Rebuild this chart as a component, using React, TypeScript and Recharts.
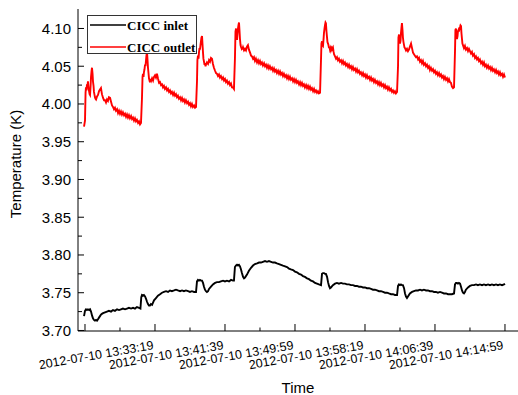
import { Label, Line, LineChart, XAxis, YAxis } from "recharts";

// seconds after 2012-07-10 13:24:59
const xTickSec = [0, 250, 500, 750, 1000, 1250, 1500, 1750, 2000, 2250, 2500, 2750, 3000];
const xTickLabel = [
  "",
  "",
  "2012-07-10 13:33:19",
  "",
  "2012-07-10 13:41:39",
  "",
  "2012-07-10 13:49:59",
  "",
  "2012-07-10 13:58:19",
  "",
  "2012-07-10 14:06:39",
  "",
  "2012-07-10 14:14:59",
];
const yTicks = [
  3.7, 3.725, 3.75, 3.775, 3.8, 3.825, 3.85, 3.875, 3.9, 3.925, 3.95, 3.975, 4.0, 4.025, 4.05, 4.075, 4.1,
];
const seriesNames = ["CICC inlet", "CICC outlet"];

// [seconds, K]
const inletPoints: [number, number][] = [
  [-7, 3.719], [0, 3.726], [7, 3.728], [14, 3.727], [21, 3.728], [29, 3.727], [36, 3.728], [43, 3.725], [50, 3.72],
  [57, 3.716], [64, 3.714], [71, 3.713], [79, 3.714], [86, 3.713], [93, 3.715], [100, 3.717], [107, 3.719], [114, 3.721],
  [121, 3.722], [129, 3.723], [143, 3.724], [157, 3.725], [171, 3.726], [186, 3.725], [200, 3.727], [214, 3.726],
  [229, 3.728], [243, 3.727], [257, 3.728], [271, 3.729], [286, 3.728], [300, 3.729], [314, 3.73], [329, 3.729],
  [343, 3.73], [357, 3.729], [371, 3.731], [386, 3.73], [396, 3.729], [402, 3.744], [407, 3.747], [414, 3.746],
  [421, 3.747], [429, 3.745], [436, 3.742], [443, 3.738], [450, 3.735], [457, 3.733], [464, 3.733], [471, 3.735],
  [479, 3.734], [486, 3.737], [493, 3.74], [507, 3.743], [521, 3.746], [536, 3.748], [550, 3.75], [564, 3.751],
  [579, 3.752], [593, 3.751], [607, 3.753], [621, 3.752], [636, 3.753], [650, 3.754], [664, 3.753], [679, 3.752],
  [693, 3.753], [707, 3.752], [721, 3.753], [736, 3.752], [750, 3.751], [764, 3.752], [779, 3.751], [793, 3.751],
  [800, 3.765], [807, 3.767], [814, 3.766], [821, 3.767], [829, 3.766], [836, 3.766], [843, 3.763], [850, 3.758],
  [857, 3.754], [864, 3.752], [871, 3.751], [879, 3.752], [886, 3.755], [900, 3.758], [914, 3.761], [929, 3.763],
  [943, 3.764], [957, 3.764], [971, 3.765], [986, 3.766], [1000, 3.765], [1014, 3.766], [1029, 3.765], [1043, 3.767],
  [1057, 3.766], [1064, 3.766], [1071, 3.784], [1079, 3.786], [1086, 3.787], [1093, 3.786], [1100, 3.787],
  [1107, 3.785], [1114, 3.781], [1121, 3.776], [1129, 3.771], [1136, 3.769], [1143, 3.77], [1157, 3.774],
  [1171, 3.779], [1186, 3.783], [1200, 3.786], [1214, 3.788], [1229, 3.789], [1243, 3.79], [1257, 3.79], [1271, 3.791],
  [1286, 3.792], [1300, 3.791], [1314, 3.792], [1329, 3.791], [1343, 3.79], [1357, 3.79], [1371, 3.789], [1386, 3.788],
  [1400, 3.787], [1414, 3.786], [1429, 3.785], [1443, 3.784], [1457, 3.782], [1471, 3.781], [1486, 3.78], [1500, 3.778],
  [1514, 3.777], [1529, 3.775], [1543, 3.774], [1557, 3.772], [1571, 3.771], [1586, 3.769], [1600, 3.768],
  [1614, 3.766], [1629, 3.765], [1643, 3.763], [1657, 3.762], [1671, 3.761], [1686, 3.76], [1693, 3.775],
  [1700, 3.776], [1707, 3.776], [1714, 3.775], [1721, 3.775], [1729, 3.771], [1736, 3.764], [1743, 3.759],
  [1750, 3.756], [1757, 3.757], [1771, 3.76], [1786, 3.762], [1800, 3.763], [1814, 3.762], [1829, 3.763],
  [1843, 3.762], [1857, 3.762], [1871, 3.761], [1886, 3.761], [1900, 3.76], [1914, 3.76], [1929, 3.759], [1943, 3.759],
  [1957, 3.758], [1971, 3.758], [1986, 3.757], [2000, 3.757], [2014, 3.756], [2029, 3.756], [2043, 3.755],
  [2057, 3.754], [2071, 3.754], [2086, 3.753], [2100, 3.752], [2114, 3.752], [2129, 3.751], [2143, 3.75], [2157, 3.75],
  [2171, 3.749], [2186, 3.748], [2200, 3.748], [2214, 3.747], [2229, 3.747], [2236, 3.759], [2243, 3.761],
  [2250, 3.76], [2257, 3.761], [2264, 3.76], [2271, 3.76], [2279, 3.756], [2286, 3.749], [2293, 3.745], [2300, 3.743],
  [2307, 3.745], [2321, 3.749], [2336, 3.751], [2350, 3.752], [2364, 3.753], [2379, 3.753], [2393, 3.754],
  [2407, 3.753], [2421, 3.754], [2436, 3.753], [2450, 3.753], [2464, 3.752], [2479, 3.752], [2493, 3.751],
  [2507, 3.751], [2521, 3.75], [2536, 3.751], [2550, 3.75], [2564, 3.749], [2579, 3.749], [2593, 3.748], [2607, 3.748],
  [2621, 3.748], [2636, 3.749], [2643, 3.761], [2650, 3.763], [2657, 3.763], [2664, 3.762], [2671, 3.763],
  [2679, 3.762], [2686, 3.758], [2693, 3.753], [2700, 3.75], [2707, 3.749], [2714, 3.751], [2721, 3.754], [2736, 3.757],
  [2750, 3.759], [2764, 3.76], [2779, 3.76], [2793, 3.761], [2807, 3.76], [2821, 3.761], [2836, 3.76], [2850, 3.761],
  [2864, 3.76], [2879, 3.761], [2893, 3.76], [2907, 3.761], [2921, 3.76], [2936, 3.761], [2950, 3.76], [2964, 3.761],
  [2979, 3.76], [2993, 3.761], [3000, 3.762],
];

const outletPoints: [number, number][] = [
  [-7, 3.97], [0, 3.978], [4, 4.015], [7, 4.022], [11, 4.018], [14, 4.026], [18, 4.024], [21, 4.03], [25, 4.022],
  [29, 4.017], [33, 4.013], [36, 4.012], [40, 4.024], [43, 4.036], [47, 4.044], [50, 4.048], [54, 4.04], [57, 4.03],
  [61, 4.024], [64, 4.016], [68, 4.012], [71, 4.009], [75, 4.007], [79, 4.006], [86, 4.01], [93, 4.012], [100, 4.017],
  [107, 4.019], [114, 4.021], [121, 4.013], [129, 4.008], [136, 4.005], [143, 4.005], [150, 4.002], [157, 4.006],
  [164, 4.004], [171, 4.009], [179, 4.008], [186, 4.003], [193, 3.998], [200, 3.996], [207, 3.993], [214, 3.995],
  [221, 3.991], [229, 3.993], [236, 3.988], [243, 3.991], [250, 3.987], [257, 3.99], [264, 3.986], [271, 3.989],
  [279, 3.985], [286, 3.987], [293, 3.983], [300, 3.986], [307, 3.982], [314, 3.985], [321, 3.981], [329, 3.984],
  [336, 3.98], [343, 3.982], [350, 3.978], [357, 3.981], [364, 3.977], [371, 3.979], [379, 3.975], [386, 3.977],
  [393, 3.973], [400, 3.975],
  [407, 4.008], [411, 4.036], [414, 4.04], [418, 4.036], [421, 4.042], [425, 4.046], [429, 4.052], [432, 4.05],
  [436, 4.058], [439, 4.064], [443, 4.069], [446, 4.06], [450, 4.048], [454, 4.04], [457, 4.034], [461, 4.031],
  [464, 4.032], [471, 4.03], [479, 4.034], [486, 4.031], [493, 4.036], [500, 4.038], [507, 4.035], [514, 4.04],
  [521, 4.034], [529, 4.028], [536, 4.029], [543, 4.025], [550, 4.026], [557, 4.022], [564, 4.024], [571, 4.02],
  [579, 4.022], [586, 4.018], [593, 4.02], [600, 4.016], [607, 4.018], [614, 4.014], [621, 4.016], [629, 4.012],
  [636, 4.015], [643, 4.011], [650, 4.013], [657, 4.009], [664, 4.011], [671, 4.007], [679, 4.009], [686, 4.005],
  [693, 4.008], [700, 4.004], [707, 4.006], [714, 4.002], [721, 4.005], [729, 4.001], [736, 4.003], [743, 3.999],
  [750, 4.001], [757, 3.997], [764, 4.0], [771, 3.996], [779, 3.998], [786, 3.995], [793, 3.996],
  [800, 4.03], [803, 4.058], [807, 4.064], [811, 4.06], [814, 4.068], [818, 4.074], [821, 4.072], [825, 4.078],
  [829, 4.084], [832, 4.088], [836, 4.09], [839, 4.08], [843, 4.068], [846, 4.06], [850, 4.056], [854, 4.052],
  [857, 4.054], [861, 4.05], [864, 4.052], [871, 4.055], [879, 4.053], [886, 4.058], [893, 4.056], [900, 4.061],
  [907, 4.06], [914, 4.053], [921, 4.048], [929, 4.044], [936, 4.041], [943, 4.04], [950, 4.037], [957, 4.039],
  [964, 4.035], [971, 4.037], [979, 4.033], [986, 4.035], [993, 4.031], [1000, 4.033], [1007, 4.029], [1014, 4.031],
  [1021, 4.027], [1029, 4.029], [1036, 4.025], [1043, 4.027], [1050, 4.022], [1057, 4.022], [1064, 4.02],
  [1071, 4.06], [1075, 4.096], [1079, 4.1], [1082, 4.094], [1086, 4.085], [1089, 4.092], [1093, 4.1], [1096, 4.104],
  [1100, 4.108], [1104, 4.096], [1107, 4.086], [1111, 4.078], [1114, 4.076], [1118, 4.074], [1121, 4.076],
  [1125, 4.072], [1129, 4.075], [1136, 4.071], [1143, 4.073], [1150, 4.071], [1157, 4.076], [1164, 4.078],
  [1171, 4.072], [1179, 4.068], [1186, 4.064], [1193, 4.063], [1200, 4.06], [1207, 4.062], [1214, 4.057], [1221, 4.06],
  [1229, 4.055], [1236, 4.058], [1243, 4.054], [1250, 4.057], [1257, 4.053], [1264, 4.055], [1271, 4.051],
  [1279, 4.054], [1286, 4.05], [1293, 4.052], [1300, 4.048], [1307, 4.051], [1314, 4.047], [1321, 4.05], [1329, 4.046],
  [1336, 4.048], [1343, 4.044], [1350, 4.047], [1357, 4.043], [1364, 4.045], [1371, 4.041], [1379, 4.044],
  [1386, 4.04], [1393, 4.043], [1400, 4.039], [1407, 4.041], [1414, 4.037], [1421, 4.04], [1429, 4.036], [1436, 4.038],
  [1443, 4.034], [1450, 4.037], [1457, 4.033], [1464, 4.036], [1471, 4.032], [1479, 4.034], [1486, 4.03],
  [1493, 4.033], [1500, 4.029], [1507, 4.032], [1514, 4.028], [1521, 4.03], [1529, 4.026], [1536, 4.029],
  [1543, 4.025], [1550, 4.028], [1557, 4.024], [1564, 4.026], [1571, 4.022], [1579, 4.025], [1586, 4.021],
  [1593, 4.024], [1600, 4.02], [1607, 4.023], [1614, 4.019], [1621, 4.021], [1629, 4.017], [1636, 4.02], [1643, 4.016],
  [1650, 4.018], [1657, 4.015], [1664, 4.017], [1671, 4.014], [1679, 4.015],
  [1686, 4.06], [1689, 4.08], [1693, 4.083], [1696, 4.078], [1700, 4.077], [1704, 4.086], [1707, 4.094], [1711, 4.1],
  [1714, 4.104], [1718, 4.108], [1721, 4.107], [1725, 4.096], [1729, 4.088], [1732, 4.082], [1736, 4.08],
  [1739, 4.078], [1743, 4.074], [1746, 4.076], [1750, 4.072], [1754, 4.074], [1757, 4.071], [1761, 4.073],
  [1764, 4.07], [1768, 4.074], [1771, 4.075], [1775, 4.07], [1779, 4.066], [1786, 4.063], [1793, 4.06], [1800, 4.062],
  [1807, 4.058], [1814, 4.06], [1821, 4.056], [1829, 4.058], [1836, 4.054], [1843, 4.057], [1850, 4.053],
  [1857, 4.055], [1864, 4.051], [1871, 4.053], [1879, 4.049], [1886, 4.052], [1893, 4.048], [1900, 4.05],
  [1907, 4.046], [1914, 4.049], [1921, 4.045], [1929, 4.047], [1936, 4.043], [1943, 4.046], [1950, 4.042],
  [1957, 4.044], [1964, 4.04], [1971, 4.042], [1979, 4.038], [1986, 4.041], [1993, 4.037], [2000, 4.039],
  [2007, 4.035], [2014, 4.038], [2021, 4.034], [2029, 4.036], [2036, 4.032], [2043, 4.035], [2050, 4.031],
  [2057, 4.033], [2064, 4.029], [2071, 4.032], [2079, 4.028], [2086, 4.03], [2093, 4.026], [2100, 4.029],
  [2107, 4.025], [2114, 4.028], [2121, 4.024], [2129, 4.026], [2136, 4.022], [2143, 4.025], [2150, 4.021],
  [2157, 4.023], [2164, 4.019], [2171, 4.022], [2179, 4.018], [2186, 4.02], [2193, 4.016], [2200, 4.018],
  [2207, 4.015], [2214, 4.017], [2221, 4.014], [2229, 4.016],
  [2236, 4.05], [2239, 4.088], [2243, 4.092], [2246, 4.086], [2250, 4.08], [2254, 4.084], [2257, 4.094],
  [2261, 4.102], [2264, 4.107], [2268, 4.098], [2271, 4.088], [2275, 4.082], [2279, 4.078], [2282, 4.075],
  [2286, 4.074], [2293, 4.071], [2300, 4.073], [2307, 4.07], [2314, 4.072], [2321, 4.076], [2329, 4.08],
  [2336, 4.074], [2343, 4.068], [2350, 4.066], [2357, 4.064], [2364, 4.062], [2371, 4.063], [2379, 4.059],
  [2386, 4.061], [2393, 4.056], [2400, 4.058], [2407, 4.054], [2414, 4.057], [2421, 4.052], [2429, 4.054],
  [2436, 4.05], [2443, 4.052], [2450, 4.048], [2457, 4.05], [2464, 4.045], [2471, 4.048], [2479, 4.044], [2486, 4.046],
  [2493, 4.042], [2500, 4.044], [2507, 4.04], [2514, 4.042], [2521, 4.038], [2529, 4.041], [2536, 4.037],
  [2543, 4.039], [2550, 4.035], [2557, 4.037], [2564, 4.033], [2571, 4.036], [2579, 4.032], [2586, 4.034],
  [2593, 4.03], [2600, 4.033], [2607, 4.029], [2614, 4.028], [2621, 4.023], [2629, 4.021], [2636, 4.022],
  [2643, 4.07], [2646, 4.098], [2650, 4.1], [2654, 4.092], [2657, 4.086], [2661, 4.09], [2664, 4.096], [2668, 4.098],
  [2671, 4.096], [2675, 4.1], [2679, 4.102], [2682, 4.104], [2686, 4.103], [2689, 4.094], [2693, 4.086], [2696, 4.08],
  [2700, 4.078], [2707, 4.074], [2714, 4.077], [2721, 4.072], [2729, 4.074], [2736, 4.07], [2743, 4.073], [2750, 4.07],
  [2757, 4.067], [2764, 4.069], [2771, 4.064], [2779, 4.066], [2786, 4.061], [2793, 4.063], [2800, 4.059],
  [2807, 4.061], [2814, 4.057], [2821, 4.059], [2829, 4.054], [2836, 4.056], [2843, 4.052], [2850, 4.055],
  [2857, 4.05], [2864, 4.052], [2871, 4.048], [2879, 4.051], [2886, 4.047], [2893, 4.049], [2900, 4.045],
  [2907, 4.048], [2914, 4.044], [2921, 4.046], [2929, 4.042], [2936, 4.045], [2943, 4.041], [2950, 4.043],
  [2957, 4.039], [2964, 4.042], [2971, 4.038], [2979, 4.04], [2986, 4.036], [2993, 4.039], [3000, 4.035],
];

const inletData = inletPoints.map(([t, v]) => ({ t, v }));
const outletData = outletPoints.map(([t, v]) => ({ t, v }));

const SANS = "'Liberation Sans', Arial, sans-serif";
const SERIF = "'Liberation Serif', 'Times New Roman', serif";
const X_DOMAIN = [-50, 3093];
const Y_DOMAIN = [3.6993, 4.1258];

// all ticks point inward, like Origin does it
function BottomTick(props: any) {
  const { x, y, index } = props;
  const label = xTickLabel[index];
  const lx = x - 1;
  const ly = y + 18;
  return (
    <g>
      <line x1={x} y1={y} x2={x} y2={y - (index % 2 === 0 ? 7 : 3.5)} stroke="#000" />
      {label && (
        <text
          x={lx}
          y={ly}
          textAnchor="end"
          transform={`rotate(-10 ${lx} ${ly})`}
          fontSize={12.5}
          fontFamily={SANS}
          fill="#000"
        >
          {label}
        </text>
      )}
    </g>
  );
}

function TopTick(props: any) {
  const { x, y, index } = props;
  return <line x1={x} y1={y} x2={x} y2={y + (index % 2 === 0 ? 6 : 3.5)} stroke="#000" />;
}

function LeftTick(props: any) {
  const { x, y, index, payload } = props;
  const major = index % 2 === 0;
  return (
    <g>
      <line x1={x} y1={y} x2={x + (major ? 6 : 4)} y2={y} stroke="#000" />
      {major && (
        <text x={x - 7} y={y} dy="0.36em" textAnchor="end" fontSize={15} fontFamily={SANS} fill="#000">
          {Number(payload.value).toFixed(2)}
        </text>
      )}
    </g>
  );
}

function RightTick(props: any) {
  const { x, y, index } = props;
  return <line x1={x - 1} y1={y} x2={x - 1 - (index % 2 === 0 ? 6 : 4)} y2={y} stroke="#000" />;
}

export default function App() {
  return (
    <div style={{ position: "absolute", left: 0, top: 0, width: 518, height: 395, background: "#fff" }}>
      <LineChart width={518} height={395} margin={{ top: 9, right: 0, bottom: 0, left: 0 }}>
        <XAxis
          xAxisId="b"
          type="number"
          dataKey="t"
          domain={X_DOMAIN}
          allowDataOverflow
          ticks={xTickSec}
          interval={0}
          height={64}
          tickSize={0}
          tickMargin={0}
          tickLine={false}
          tick={<BottomTick />}
          axisLine={{ stroke: "#000" }}
        >
          <Label value="Time" position="insideBottom" offset={2} fontSize={15} fontFamily={SANS} fill="#000" />
        </XAxis>
        <XAxis
          xAxisId="t"
          orientation="top"
          type="number"
          dataKey="t"
          domain={X_DOMAIN}
          allowDataOverflow
          ticks={xTickSec}
          interval={0}
          height={0}
          tickSize={0}
          tickMargin={0}
          tickLine={false}
          tick={<TopTick />}
          axisLine={{ stroke: "#000" }}
        />
        <YAxis
          yAxisId="l"
          type="number"
          domain={Y_DOMAIN}
          allowDataOverflow
          ticks={yTicks}
          interval={0}
          width={78}
          tickSize={0}
          tickMargin={0}
          tickLine={false}
          tick={<LeftTick />}
          axisLine={{ stroke: "#000" }}
        >
          <Label
            value="Temperature (K)"
            angle={-90}
            position={{ x: 21, y: 155 }}
            fontSize={15}
            fontFamily={SANS}
            fill="#000"
            style={{ textAnchor: "middle" }}
          />
        </YAxis>
        <YAxis
          yAxisId="r"
          orientation="right"
          type="number"
          domain={Y_DOMAIN}
          allowDataOverflow
          ticks={yTicks}
          interval={0}
          width={0}
          tickSize={0}
          tickMargin={0}
          tickLine={false}
          tick={<RightTick />}
          axisLine={false}
        />
        <Line
          xAxisId="b"
          yAxisId="l"
          data={inletData}
          dataKey="v"
          name={seriesNames[0]}
          type="linear"
          stroke="#000"
          strokeWidth={1.9}
          dot={false}
          isAnimationActive={false}
        />
        <Line
          xAxisId="b"
          yAxisId="l"
          data={outletData}
          dataKey="v"
          name={seriesNames[1]}
          type="linear"
          stroke="#ff0000"
          strokeWidth={1.9}
          dot={false}
          isAnimationActive={false}
        />
      </LineChart>
      <svg width={518} height={395} style={{ position: "absolute", left: 0, top: 0, pointerEvents: "none" }}>
        <rect x={87.5} y={15.5} width={109} height={38} fill="#fff" stroke="#333" />
        <line x1={90} y1={25} x2={126} y2={25} stroke="#000" strokeWidth={1.6} />
        <line x1={90} y1={47} x2={126} y2={47} stroke="#ff0000" strokeWidth={1.6} />
        <text x={127} y={25} dy="0.35em" fontSize={13} fontWeight="bold" fontFamily={SERIF} fill="#000">
          {seriesNames[0]}
        </text>
        <text x={127} y={47} dy="0.35em" fontSize={13} fontWeight="bold" fontFamily={SERIF} fill="#000">
          {seriesNames[1]}
        </text>
      </svg>
    </div>
  );
}
